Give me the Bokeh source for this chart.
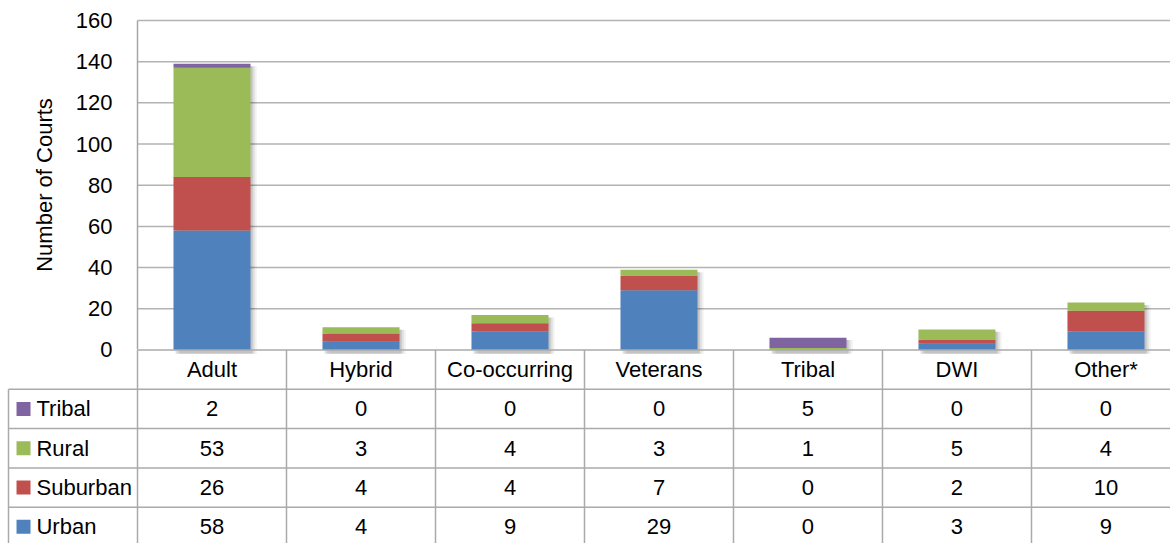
from bokeh.plotting import figure
from bokeh.models import Range1d, FixedTicker, ColumnDataSource
from bokeh.embed import file_html
from bokeh.resources import INLINE
from bokeh.core.properties import value

# ---- data ----
categories = ["Adult", "Hybrid", "Co-occurring", "Veterans", "Tribal", "DWI", "Other*"]
series = ["Urban", "Suburban", "Rural", "Tribal"]
urban = [58, 4, 9, 29, 0, 3, 9]
suburban = [26, 4, 4, 7, 0, 2, 10]
rural = [53, 3, 4, 3, 1, 5, 4]
tribal = [2, 0, 0, 0, 5, 0, 0]
colors = ["#4F81BD", "#C0504D", "#9BBB59", "#8064A2"]
y_ticks = [0, 20, 40, 60, 80, 100, 120, 140, 160]
table_order = ["Tribal", "Rural", "Suburban", "Urban"]

FONT = "Liberation Sans"
values_by_series = {"Urban": urban, "Suburban": suburban, "Rural": rural, "Tribal": tribal}
color_by_series = dict(zip(series, colors))

n = len(categories)
xs = [i + 0.5 for i in range(n)]
X0, X1 = -0.9195, 6.933          # column units (legend column left of 0)
Y0, Y1 = -93.97, 169.71          # data units
T0, T1 = -4.924, 8.893           # table row units
XL = -0.8658                     # table left border

p = figure(width=1170, height=543, x_range=Range1d(X0, X1), y_range=Range1d(Y0, Y1),
           output_backend="svg", toolbar_location=None, x_axis_location=None,
           min_border=0, min_border_left=0, min_border_right=0,
           min_border_top=0, min_border_bottom=0)
p.extra_y_ranges = {"table": Range1d(T0, T1)}
p.outline_line_color = None
p.grid.visible = False
p.background_fill_color = "white"
p.border_fill_color = "white"

# y axis placed at x=0
ax = p.yaxis[0]
ax.fixed_location = 0
ax.bounds = (0, 160)
ax.ticker = FixedTicker(ticks=y_ticks)
ax.axis_line_color = "#a6a6a6"
ax.axis_line_width = 1.5
ax.major_tick_line_color = None
ax.minor_tick_line_color = None
ax.major_label_standoff = 19
ax.major_label_text_font = FONT
ax.major_label_text_font_size = "22px"
ax.major_label_text_color = "black"
ax.axis_label = "Number of Courts"
ax.axis_label_text_font = FONT
ax.axis_label_text_font_size = "22px"
ax.axis_label_text_font_style = "normal"
ax.axis_label_text_color = "black"
ax.axis_label_standoff = 16

# gridlines
gt = y_ticks[1:]
p.segment(x0=[0] * len(gt), x1=[X1] * len(gt), y0=gt, y1=gt,
          line_color="#b3b3b3", line_width=1.5)

# bar shadows
totals = [sum(v) for v in zip(urban, suburban, rural, tribal)]
for dx, a in [(0.014, 0.12), (0.028, 0.08), (0.042, 0.05)]:
    p.vbar(x=[x + dx for x in xs], top=[t - 1.2 for t in totals], bottom=-1.8,
           width=0.517, fill_color="black", fill_alpha=a, line_color=None)

src = ColumnDataSource(dict(x=xs, Urban=urban, Suburban=suburban, Rural=rural, Tribal=tribal))
p.vbar_stack(series, x="x", width=0.517, color=colors, line_color=None, source=src)

# table lines
LC = "#aaaaaa"
LW = 1.5
p.segment(x0=[0], x1=[X1], y0=[0], y1=[0], y_range_name="table", line_color=LC, line_width=LW)
rows_y = [-1, -2, -3, -4]
p.segment(x0=[XL] * 4, x1=[X1] * 4, y0=rows_y, y1=rows_y, y_range_name="table",
          line_color=LC, line_width=LW)
vx = list(range(n))
p.segment(x0=vx, x1=vx, y0=[0] * n, y1=[T0] * n, y_range_name="table", line_color=LC, line_width=LW)
p.segment(x0=[XL], x1=[XL], y0=[-1], y1=[T0], y_range_name="table",
          line_color=LC, line_width=LW)

# header labels
p.text(x=xs, y=[-0.5] * n, text=categories, y_range_name="table",
       text_align="center", text_baseline="middle", text_font=value(FONT),
       text_font_size="22px", text_color="black")

# value rows + legend keys
for r, name in enumerate(table_order):
    yy = -(r + 1.5)
    p.text(x=xs, y=[yy] * n, text=[str(v) for v in values_by_series[name]], y_range_name="table",
           text_align="center", text_baseline="middle", text_font=value(FONT),
           text_font_size="22px", text_color="black")
    p.scatter(x=[-0.765], y=[yy], marker="square", size=14, y_range_name="table",
              fill_color=color_by_series[name], line_color=None)
    p.text(x=[-0.678], y=[yy], text=[name], y_range_name="table",
           text_align="left", text_baseline="middle", text_font=value(FONT),
           text_font_size="22px", text_color="black")

open("out.html", "w").write(file_html(p, INLINE))
